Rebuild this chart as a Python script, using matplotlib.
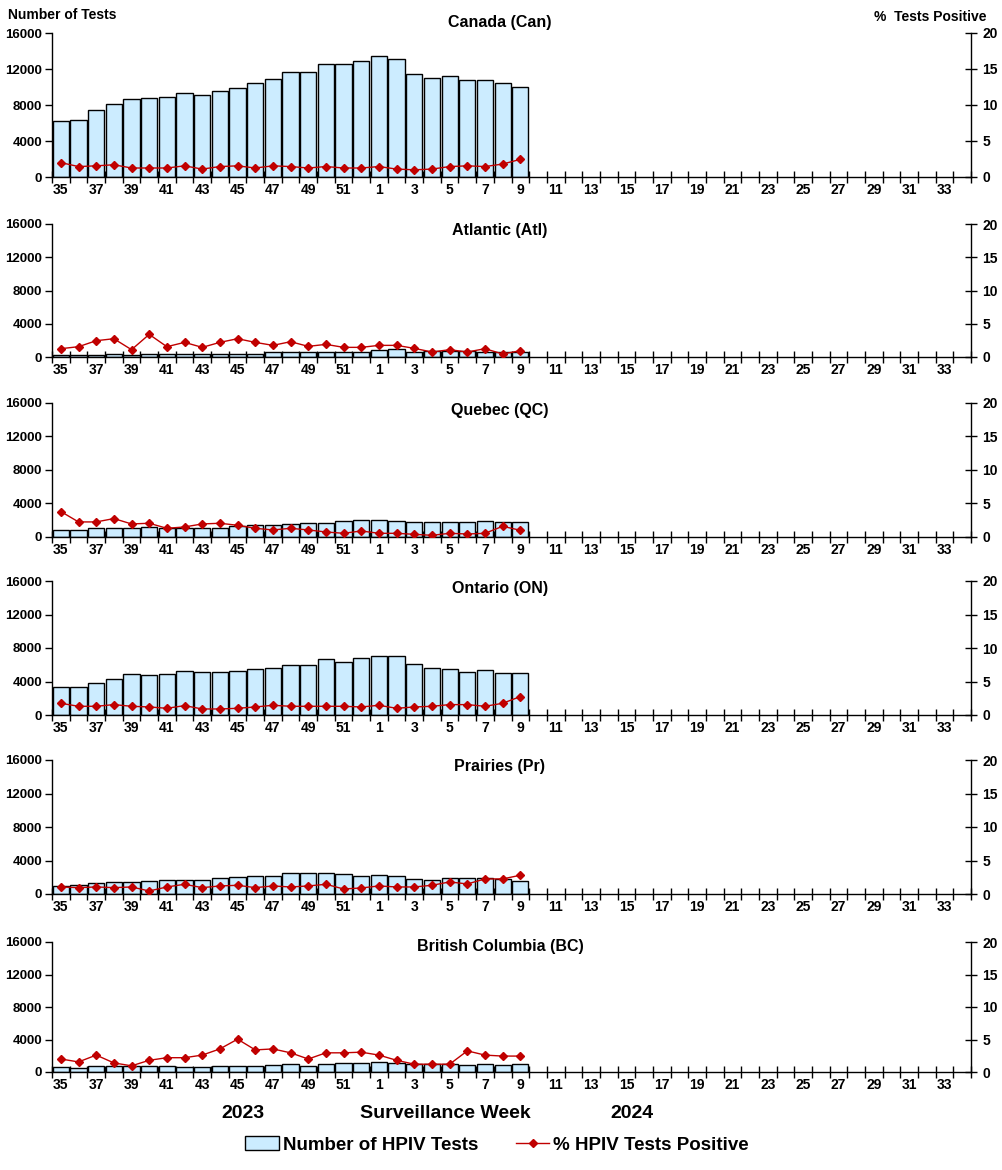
import matplotlib
matplotlib.use("Agg")
import matplotlib.pyplot as plt
import numpy as np
from matplotlib.patches import Patch
from matplotlib.lines import Line2D

plt.rcParams['font.family'] = ['Liberation Sans', 'DejaVu Sans']
plt.rcParams['font.weight'] = 'bold'

# surveillance weeks 35-52 (2023) and 1-34 (2024)
weeks = list(range(35, 53)) + list(range(1, 35))

regions = ['Canada (Can)', 'Atlantic (Atl)', 'Quebec (QC)', 'Ontario (ON)',
           'Prairies (Pr)', 'British Columbia (BC)']

# number of tests, weeks 35..9
can_tests = [6200, 6300, 7450, 8100, 8650, 8750, 8900, 9300, 9100, 9550, 9850, 10400, 10850, 11650,
             11650, 12600, 12600, 12850, 13400, 13150, 11400, 10950, 11200, 10750, 10750, 10450, 10000]
atl_tests = [300, 300, 300, 400, 300, 400, 400, 400, 400, 400, 400, 400, 550, 650,
             650, 650, 650, 650, 800, 950, 650, 700, 700, 700, 600, 550, 550]
qc_tests = [850, 850, 1050, 1050, 1050, 1200, 1050, 1050, 1050, 1050, 1350, 1450, 1450, 1550,
            1650, 1650, 1900, 2000, 2000, 1900, 1800, 1800, 1800, 1800, 1900, 1800, 1800]
on_tests = [3350, 3350, 3800, 4300, 4900, 4800, 4900, 5250, 5100, 5100, 5250, 5500, 5600, 5950,
            5950, 6700, 6300, 6800, 7050, 7050, 6050, 5600, 5500, 5100, 5350, 5000, 5000]
pr_tests = [950, 1050, 1300, 1400, 1400, 1550, 1650, 1650, 1650, 1900, 2050, 2150, 2150, 2550,
            2550, 2550, 2400, 2150, 2300, 2150, 1800, 1700, 1900, 1900, 1900, 1800, 1600]
bc_tests = [600, 500, 750, 750, 750, 750, 750, 650, 650, 750, 750, 750, 850, 950,
            750, 950, 1050, 1050, 1200, 1050, 1000, 1000, 950, 850, 950, 850, 950]

# percent positive
can_pct = [2.0, 1.45, 1.55, 1.7, 1.25, 1.25, 1.25, 1.55, 1.1, 1.45, 1.55, 1.25, 1.55, 1.45,
           1.25, 1.45, 1.25, 1.25, 1.45, 1.1, 1.0, 1.1, 1.45, 1.55, 1.45, 1.8, 2.45]
atl_pct = [1.25, 1.55, 2.45, 2.75, 1.1, 3.4, 1.55, 2.2, 1.45, 2.2, 2.75, 2.2, 1.75, 2.3,
           1.6, 1.9, 1.45, 1.45, 1.75, 1.75, 1.3, 0.75, 1.1, 0.75, 1.25, 0.45, 0.95]
qc_pct = [3.8, 2.25, 2.25, 2.75, 1.95, 2.05, 1.3, 1.5, 1.95, 2.05, 1.75, 1.3, 1.05, 1.3,
          1.05, 0.75, 0.55, 0.9, 0.55, 0.55, 0.4, 0.25, 0.55, 0.45, 0.55, 1.6, 1.0]
on_pct = [1.75, 1.3, 1.3, 1.55, 1.3, 1.2, 1.0, 1.4, 0.9, 0.9, 1.0, 1.2, 1.45, 1.3,
          1.3, 1.3, 1.3, 1.2, 1.45, 1.0, 1.2, 1.3, 1.55, 1.55, 1.3, 1.75, 2.75]
pr_pct = [1.05, 0.95, 1.05, 0.95, 1.05, 0.45, 1.05, 1.45, 0.95, 1.2, 1.3, 0.95, 1.2, 1.05,
          1.2, 1.45, 0.75, 0.9, 1.2, 1.05, 1.05, 1.3, 1.8, 1.5, 2.25, 2.25, 2.8]
bc_pct = [2.0, 1.55, 2.6, 1.4, 0.95, 1.8, 2.2, 2.2, 2.6, 3.55, 5.05, 3.4, 3.55, 2.95,
          2.0, 2.95, 2.95, 3.05, 2.6, 1.8, 1.2, 1.2, 1.2, 3.25, 2.6, 2.45, 2.45]

tests = [can_tests, atl_tests, qc_tests, on_tests, pr_tests, bc_tests]
pcts = [can_pct, atl_pct, qc_pct, on_pct, pr_pct, bc_pct]

W, H = 1002, 1170
# panel (top, bottom) in pixels
panels = [(33, 177), (224, 357), (403, 537), (581, 715), (760, 894), (942, 1072)]
title_y = [22, 231, 410, 588, 767, 947]
left, right = 52, 971

bar_color = '#CCECFF'
line_color = '#C00000'

fig = plt.figure(figsize=(W / 100, H / 100), dpi=100)

for i in range(6):
    top, bot = panels[i]
    ax = fig.add_axes([left / W, 1 - bot / H, (right - left) / W, (bot - top) / H])
    x = np.arange(len(tests[i]))
    ax.bar(x, tests[i], width=0.92, color=bar_color, edgecolor='black', linewidth=1.0, zorder=2)
    ax.set_xlim(-0.5, len(weeks) - 0.5)
    ax.set_ylim(0, 16000)
    ax.set_yticks([0, 4000, 8000, 12000, 16000])
    ax.tick_params(axis='y', direction='out', length=5, width=1, labelsize=9.5, pad=2)
    pos = np.arange(0, len(weeks), 2)
    ax.set_xticks(pos)
    ax.set_xticklabels([str(weeks[p]) for p in pos], fontsize=10)
    ax.tick_params(axis='x', which='major', length=0, pad=4)
    ax.set_xticks(np.arange(-0.5, len(weeks), 1), minor=True)
    ax.tick_params(axis='x', which='minor', direction='inout', length=8, width=1)
    ax.spines['top'].set_visible(False)
    ax.spines['right'].set_visible(False)
    for s in ['left', 'bottom']:
        ax.spines[s].set_linewidth(1.0)

    ax2 = ax.twinx()
    ax2.plot(x, pcts[i], color=line_color, marker='D', markersize=4.5, linewidth=1.0, zorder=3)
    ax2.set_ylim(0, 20)
    ax2.set_yticks([0, 5, 10, 15, 20])
    ax2.tick_params(axis='y', direction='inout', length=8, width=1, labelsize=10, pad=4)
    ax2.spines['top'].set_visible(False)
    ax2.spines['left'].set_visible(False)
    ax2.spines['bottom'].set_visible(False)
    ax2.spines['right'].set_linewidth(1.0)

    fig.text(500 / W, 1 - title_y[i] / H, regions[i], ha='center', va='center',
             fontsize=11.5, fontweight='bold')

fig.text(8 / W, 1 - 15 / H, 'Number of Tests', ha='left', va='center', fontsize=10, fontweight='bold')
fig.text(987 / W, 1 - 17 / H, '%  Tests Positive', ha='right', va='center', fontsize=10, fontweight='bold')

fig.text(243 / W, 1 - 1113 / H, '2023', ha='center', va='center', fontsize=14, fontweight='bold')
fig.text(445 / W, 1 - 1113 / H, 'Surveillance Week', ha='center', va='center', fontsize=14, fontweight='bold')
fig.text(632 / W, 1 - 1113 / H, '2024', ha='center', va='center', fontsize=14, fontweight='bold')

handles = [Patch(facecolor=bar_color, edgecolor='black', linewidth=1.0),
           Line2D([0], [0], color=line_color, marker='D', markersize=4.5, linewidth=1.0)]
fig.legend(handles, ['Number of HPIV Tests', '% HPIV Tests Positive'],
           loc='center', bbox_to_anchor=(497 / W, 1 - 1145 / H), ncol=2, frameon=False,
           prop={'size': 13.5, 'weight': 'bold'}, handlelength=1.8, handletextpad=0.2,
           columnspacing=2.0)

fig.savefig('out.png', dpi=100)
